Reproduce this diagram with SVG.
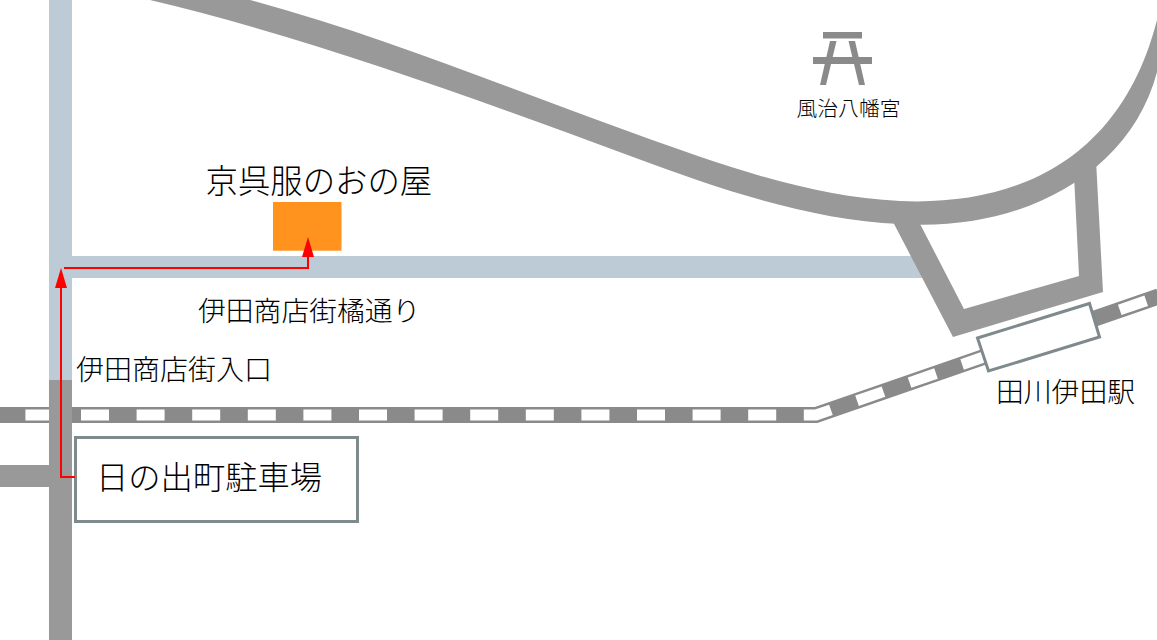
<svg xmlns="http://www.w3.org/2000/svg" width="1157" height="640" viewBox="0 0 1157 640">
<style>
.label{font-family:"Noto Sans CJK JP","Noto Sans CJK SC",sans-serif;font-weight:300;fill:#000;}
.road{fill:#999999;}
.canal{fill:#bccbd5;}
.route{fill:none;stroke:#ff0000;stroke-width:2;marker-end:url(#arrow);}
</style>
<defs>
<marker id="arrow" markerUnits="userSpaceOnUse" markerWidth="20" markerHeight="12" refX="0" refY="6" orient="auto" viewBox="0 0 20 12">
<path d="M0,0 L20,6 L0,12 Z" fill="#ff0000"/>
</marker>
</defs>
<rect width="1157" height="640" fill="#ffffff"/>
<g id="rail">
<path d="M-2,415 L816,415 L1159,296.300" fill="none" stroke="#8a8a8a" stroke-width="16"/>
<path d="M0,415 L816,415 L1157,297" fill="none" stroke="#ffffff" stroke-width="11" stroke-dasharray="28 27.6" stroke-dashoffset="30.2"/>
</g>
<g id="roads">
<rect class="canal" x="49" y="0" width="23" height="380"/>
<rect class="canal" x="72" y="256" width="850" height="22"/>
<rect class="road" x="49" y="380" width="23" height="260"/>
<rect class="road" x="0" y="465" width="49" height="22"/>
<path class="road" d="M250,0 C380,35 510,89 633,133 C722,165 810,197 900,201 C1010,206 1120,165 1157,20 L1157,72 C1130,175 1020,232 900,224 C810,220 722,190 633,157 C480,100 300,35 150,0 Z"/>
<polygon class="road" points="892,220 953,337 1103,292 1096,160 1074,175 1079,276 964,309 918,220"/>
</g>
<g id="shop">
<rect x="273" y="202" width="68.500" height="48.700" fill="#ff931e"/>
<text class="label" x="205.500" y="193" font-size="32.400">京呉服のおの屋</text>
</g>
<g id="street-label"><text class="label" x="198" y="321" font-size="27.800">伊田商店街橘通り</text></g>
<g id="entrance-label"><text class="label" x="76" y="380" font-size="28">伊田商店街入口</text></g>
<g id="parking">
<rect x="75.500" y="437.500" width="282" height="84" fill="#ffffff" stroke="#7f8a8e" stroke-width="3"/>
<text class="label" x="96" y="489" font-size="32.300">日の出町駐車場</text>
</g>
<g id="station">
<polygon points="977.500,338 1089.500,303.500 1099.500,337 988.500,371" fill="#ffffff" stroke="#7f8a8e" stroke-width="3"/>
<text class="label" x="996" y="402" font-size="27.800">田川伊田駅</text>
</g>
<g id="shrine">
<g fill="#8a8a8a">
<rect x="823" y="32" width="39" height="6.500"/>
<rect x="813" y="57" width="59" height="7"/>
<polygon points="830,41 836.500,41 826,85 820,85"/>
<polygon points="848.500,41 855,41 865,85 859,85"/>
</g>
<text class="label" x="796.500" y="116" font-size="20.800">風治八幡宮</text>
</g>
<g id="connectors">
<path class="route" d="M75,477 H61 V288"/>
<path class="route" d="M64,268 H308 V257"/>
</g>
</svg>
